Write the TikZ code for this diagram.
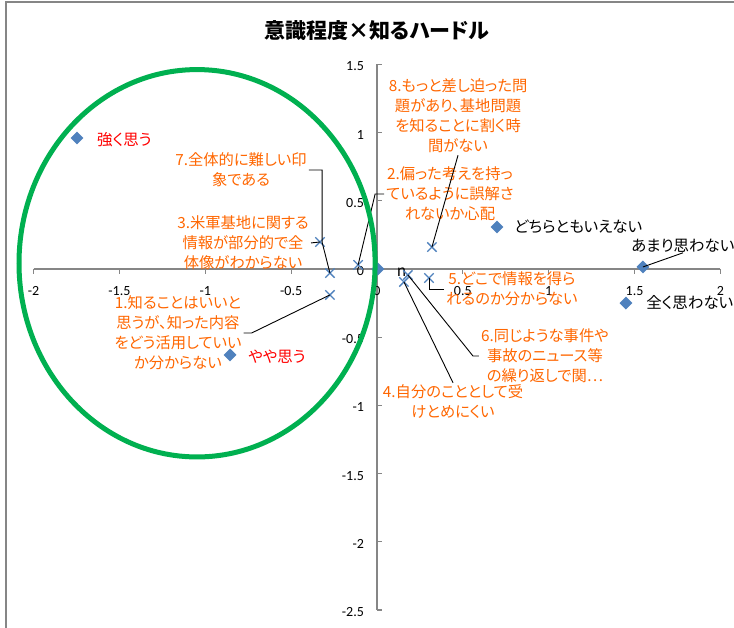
\documentclass[tikz,border=0pt]{standalone}
\usepackage{fontspec}
\setmainfont{Noto Sans CJK JP}[RawFeature=+palt]
\newfontfamily\numfont{Carlito}
\usetikzlibrary{shapes.geometric,shapes.misc,positioning}

\definecolor{ptblue}{RGB}{79,129,189}
\definecolor{lblorange}{RGB}{255,102,0}
\definecolor{axisgray}{RGB}{134,134,134}
\definecolor{ringgreen}{RGB}{0,176,80}

\begin{document}
\begin{tikzpicture}[x=171.7pt, y=136.4pt,
    axis/.style={draw=axisgray, line width=1.2pt},
    tick/.style={font=\numfont\fontsize{14}{14}\selectfont, inner sep=0pt},
    dia/.style={diamond, fill=ptblue, minimum size=13pt, inner sep=0pt},
    xmark/.style={cross out, draw=ptblue, line width=1.3pt, minimum size=8pt, inner sep=0pt},
    note/.style={text=lblorange, align=center, font=\fontsize{15.3}{20}\selectfont, inner sep=2pt},
    tag/.style={anchor=west, font=\fontsize{15.5}{20}\selectfont, inner sep=0pt},
    leader/.style={draw, line width=0.9pt}]

    \useasboundingbox (-2.1957,-2.6320) rectangle (2.0792,1.9721);
    \draw [axisgray, line width=1.5pt] (-2.161,-2.65) -- (-2.161,1.957) -- (2.1,1.957);

    \node [font=\bfseries\fontsize{21}{21}\selectfont] (title) at (0,1.745) {意識程度×知るハードル};

    % axes
    \draw [axis] (-2,0) -- (2,0);
    \draw [axis] (0,-2.5) -- (0,1.5);
    \foreach \x in {-2,-1.5,-1,-0.5,0,0.5,1,1.5,2} {
        \draw [axis] (\x,0) -- ++(0,-5pt);
        \node [tick] (xt\x) at (\x,-0.161) {\x};
    }
    \foreach \y in {-2.5,-2,-1.5,-1,-0.5,0,0.5,1,1.5} {
        \draw [axis] (0,\y) -- ++(5pt,0);
        \node [tick, anchor=east] (yt\y) at ([yshift=-2pt]-0.075,\y) {\y};
    }

    % answers
    \node [dia] (dKyoku) at (-1.747,0.96) {};
    \node [dia] (dYaya) at (-0.856,-0.63) {};
    \node [dia] (dDochira) at (0.699,0.308) {};
    \node [dia] (dAmari) at (1.549,0.015) {};
    \node [dia] (dMattaku) at (1.45,-0.25) {};
    \node [dia] (dZero) at (0.005,0) {};

    \node [tag, text=red] (lKyoku) at (-1.631,0.946) {強く思う};
    \node [tag, text=red] (lYaya) at (-0.751,-0.645) {やや思う};
    \node [tag] (lDochira) at (0.798,0.308) {どちらともいえない};
    \node [tag, anchor=center] (lAmari) at (1.782,0.169) {あまり思わない};
    \node [tag] (lMattaku) at (1.567,-0.249) {全く思わない};
    \node [tag] (lN) at (0.115,-0.022) {n};

    % hurdles
    \node [xmark] (m3) at (-0.332,0.198) {};
    \node [xmark] (m7) at (-0.274,-0.03) {};
    \node [xmark] (m1) at (-0.274,-0.19) {};
    \node [xmark] (m2) at (-0.11,0.03) {};
    \node [xmark] (m8) at (0.32,0.161) {};
    \node [xmark] (m6) at (0.18,-0.044) {};
    \node [xmark] (m4) at (0.157,-0.095) {};
    \node [xmark] (m5) at (0.303,-0.066) {};

    \node [note] (l8) at (0.472,1.122) {8.もっと差し迫った問\\題があり、基地問題\\を知ることに割く時\\間がない};
    \node [note] (l2) at (0.425,0.55) {2.偏った考えを持っ\\ているように誤解さ\\れないか心配};
    \node [note] (l7) at (-0.792,0.726) {7.全体的に難しい印\\象である};
    \node [note] (l3) at (-0.780,0.191) {3.米軍基地に関する\\情報が部分的で全\\体像がわからない};
    \node [note] (l1) at (-1.159,-0.469) {1.知ることはいいと\\思うが、知った内容\\をどう活用していい\\か分からない};
    \node [note] (l5) at (0.786,-0.147) {5.どこで情報を得ら\\れるのか分からない};
    \node [note] (l6) at (0.978,-0.638) {6.同じような事件や\\事故のニュース等\\の繰り返しで関…};
    \node [note] (l4) at (0.443,-0.975) {4.自分のこととして受\\けとめにくい};

    \coordinate (k7) at (-0.320,0.198);

    \path [leader] (l7.east) -| (k7) -- (m7.center);
    \path [leader] (l3.east) -- (m3.center);
    \path [leader] (l1.east) -- ++(8pt,0) -- (m1.center);
    \path [leader] (l2.west) -- ++(-9pt,0) -- (m2.center);
    \path [leader] (l8.south) -- (m8.center);
    \path [leader] (l5.west) -| (m5.center);
    \path [leader] (l6.west) -- ++(-6pt,0) -- (m6.center);
    \path [leader] (l4.north) -- (m4.center);
    \path [leader] (lAmari.south) -- (dAmari.center);

    % ring
    \draw [ringgreen, line width=5pt] (-1.048,0.042) ellipse [x radius=1.037, y radius=1.42];
\end{tikzpicture}
\end{document}
